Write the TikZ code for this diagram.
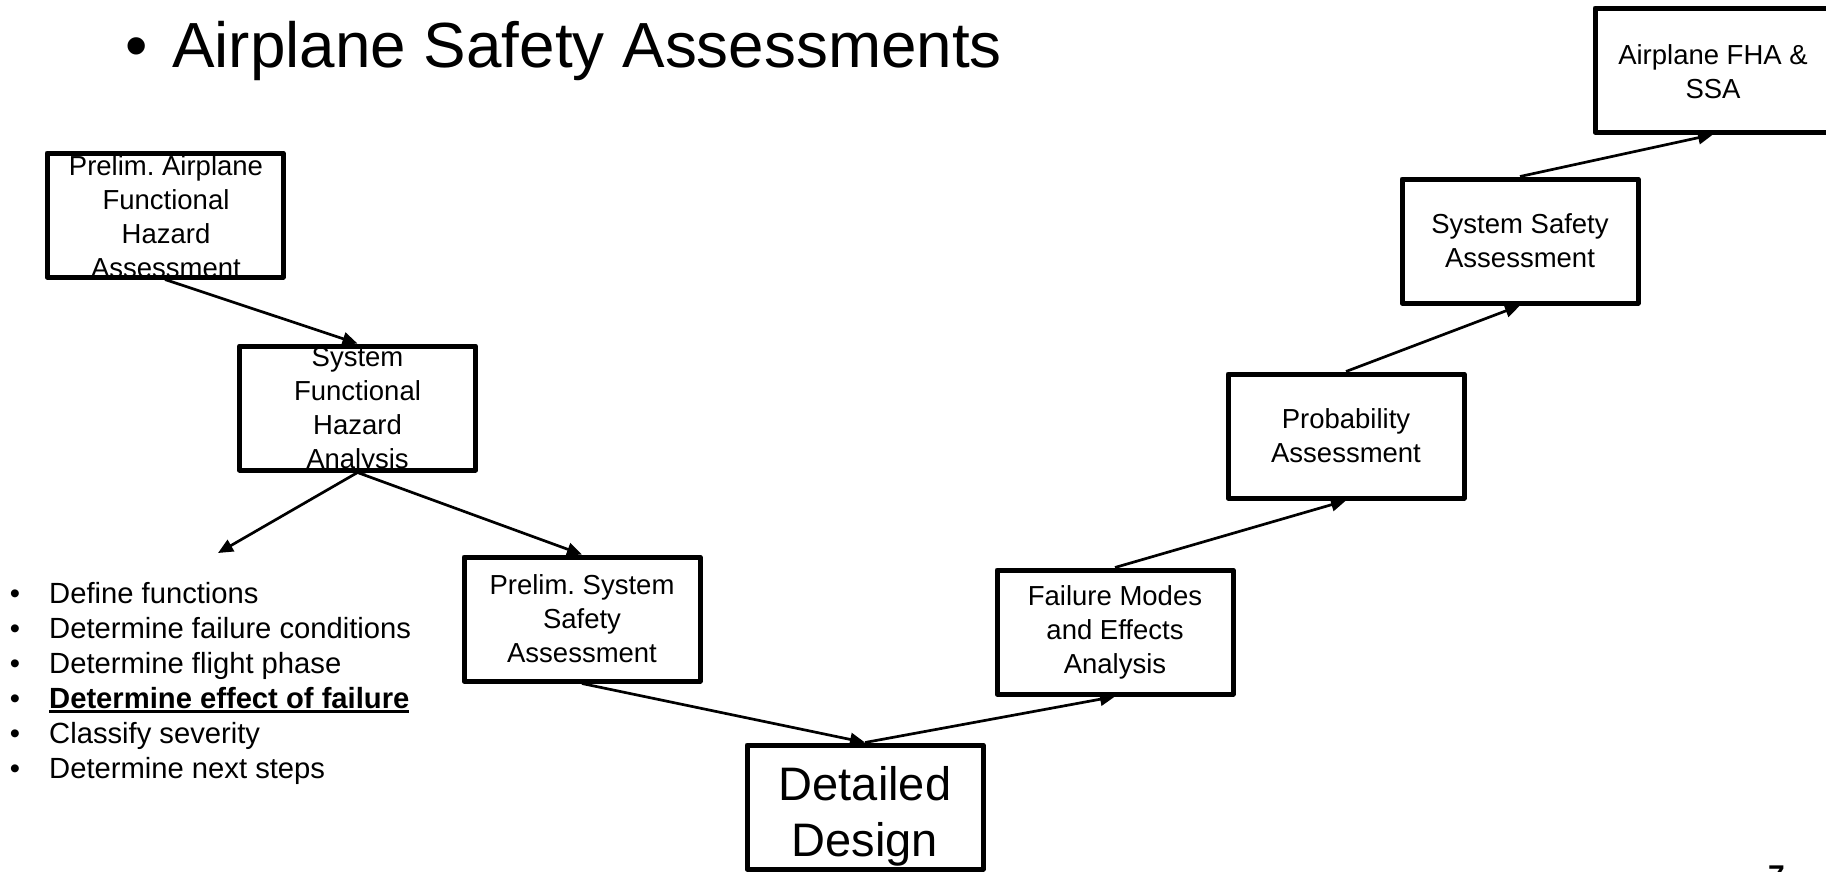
\documentclass[tikz,border=0pt]{standalone}
\usepackage{fontspec}
\setmainfont{Liberation Sans}
\usetikzlibrary{arrows.meta}
\frenchspacing
% thick underline used for the highlighted step
\newcommand{\heavyul}[1]{\setbox0=\hbox{#1}\leavevmode\rlap{\rule[-5pt]{\wd0}{2.6pt}}\box0}
\begin{document}
\begin{tikzpicture}[x=1pt,y=-1pt,
  stepbox/.style={draw, line width=5pt, line join=round, rectangle,
    minimum width=236pt, minimum height=124pt, inner sep=0pt},
  boxtext/.style={align=center, inner sep=0pt, font={\fontsize{27.5}{34}\selectfont}},
  bigtext/.style={align=center, inner sep=0pt, font={\fontsize{47}{56}\selectfont}},
  flow/.style={line width=2.7pt, -{Triangle[length=15pt,width=13pt]}},
  item/.style={anchor=base west, inner sep=0pt, font={\fontsize{29.2}{35}\selectfont}},
  dot/.style={anchor=base, inner sep=0pt, font={\fontsize{29.2}{35}\selectfont}}]
\useasboundingbox (0,0) rectangle (1826,871);
\clip (0,0) rectangle (1826,871);

% heading
\node[anchor=base, inner sep=0pt, font={\fontsize{63.8}{77}\selectfont}] (titledot) at (137,67) {•};
\node[anchor=base west, inner sep=0pt, font={\fontsize{63.8}{77}\selectfont}] (title) at (172,67) {Airplane Safety Assessments};

% process boxes
\node[stepbox] (afha) at (165,215) {};
\node[boxtext] (afha-t) at (166,217) {Prelim. Airplane\\Functional\\Hazard\\Assessment};

\node[stepbox] (sfha) at (357.5,408) {};
\node[boxtext] (sfha-t) at (357.5,411) {System\\Functional\\Hazard\\Analysis};

\node[stepbox] (pssa) at (582,619) {};
\node[boxtext] (pssa-t) at (pssa.center) {Prelim. System\\Safety\\Assessment};

\node[stepbox] (dd) at (865,807) {};
\node[bigtext] (dd-t) at (865,816) {Detailed\\Design};

\node[stepbox] (fmea) at (1115,632) {};
\node[boxtext] (fmea-t) at (fmea.center) {Failure Modes\\and Effects\\Analysis};

\node[stepbox] (prob) at (1346,436) {};
\node[boxtext] (prob-t) at (prob.center) {Probability\\Assessment};

\node[stepbox] (ssa) at (1520,241) {};
\node[boxtext] (ssa-t) at (ssa.center) {System Safety\\Assessment};

\node[stepbox] (fha) at (1713,70) {};
\node[boxtext] (fha-t) at (1713,72) {Airplane FHA \&\\SSA};

% list of FHA steps
\coordinate (listtip) at (218,553);
\foreach \i/\txt [count=\k] in {603/Define functions,
    638/Determine failure conditions,
    673/Determine flight phase,
    708/{\bfseries\heavyul{Determine effect of failure}},
    743/Classify severity,
    778/Determine next steps}{
  \node[dot] (b\k) at (15,\i) {•};
  \node[item] (s\k) at (49,\i) {\txt};
}

% connectors
\draw[flow] (afha.south) -- (sfha.north);
\draw[flow] (sfha.south) -- (listtip);
\draw[flow] (sfha.south) -- (pssa.north);
\draw[flow] (pssa.south) -- (dd.north);
\draw[flow] (dd.north) -- (fmea.south);
\draw[flow] (fmea.north) -- (prob.south);
\draw[flow] (prob.north) -- (ssa.south);
\draw[flow] (ssa.north) -- (fha.south);

% page number
\node[anchor=base west, inner sep=0pt, font={\fontsize{30}{36}\selectfont\bfseries}] (pagenum) at (1768,886) {7};
\end{tikzpicture}
\end{document}
